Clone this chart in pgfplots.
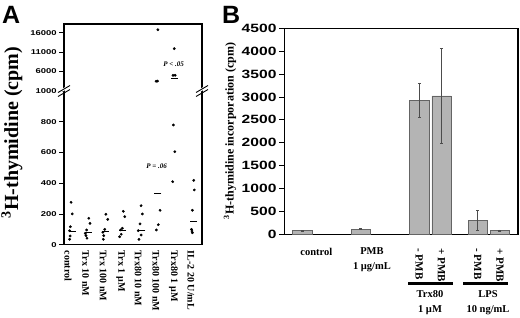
\documentclass[border=0pt]{standalone}
\usepackage{fontspec}
\setmainfont{Liberation Serif}
\setsansfont{Liberation Sans}
\usepackage{pgfplots}
\pgfplotsset{compat=1.18}
\definecolor{barfill}{RGB}{180,180,180}
\definecolor{bardraw}{RGB}{100,100,100}
\begin{document}
\begin{tikzpicture}
\useasboundingbox (0pt,0pt) rectangle (520pt,317pt);
% ---------------- Panel A, lower part (0-1000) ----------------
\begin{axis}[name=lowA, at={(64pt,72.3pt)}, anchor=south west, scale only axis,
  width=138pt, height=153.7pt, xmin=0.6, xmax=8.46, ymin=0, ymax=1000,
  axis line style={draw=none}, clip=false, scaled y ticks=false,
  ytick={0,200,400,600,800,1000}, yticklabels={0,200,400,600,800,1000},
  ytick pos=left, tick align=outside, major tick length=5pt,
  y tick style={line width=0.8pt, black},
  yticklabel style={font=\sffamily\bfseries\fontsize{7}{8}\selectfont, xscale=1.35, inner sep=1.5pt},
  xtick={1,...,8},
  xticklabels={control, Trx 10 nM, Trx 100 nM, Trx 1 µM, Trx80 10 nM, Trx80 100 nM, Trx80 1 µM, IL-2 20 U/mL},
  x tick style={draw=none},
  xticklabel style={rotate=-90, anchor=west, font=\bfseries\fontsize{10}{12}\selectfont, inner sep=1pt, yshift=-3pt}]
\addplot[only marks, mark=*, mark size=1.2pt, black] coordinates {
 (1.00,276) (1.07,200) (0.96,117) (0.92,91) (0.95,57) (0.92,35)
 (2.01,172) (2.08,139) (1.89,96) (1.81,74) (1.85,59) (1.91,42)
 (2.99,198) (3.09,165) (2.92,100) (2.81,81) (2.86,59) (2.84,35)
 (3.98,217) (4.06,182) (3.92,107) (3.83,96) (3.86,68) (3.77,52)
 (4.99,254) (5.06,200) (4.93,135) (4.83,91) (4.99,63) (4.87,35)
 (6.07,224) (5.97,130) (5.86,96)
 (6.79,410) (6.91,605) (6.83,779)
 (7.99,419) (8.02,356) (7.91,224) (7.86,100) (7.89,89) (7.91,78)
};
\addplot[only marks, mark=-, mark size=3.5pt, line width=1.1pt, black] coordinates {
 (1.07,87) (1.97,78) (2.95,83) (3.94,94) (5.04,91) (5.94,332) (7.99,150)
};
\node[font=\bfseries\itshape\fontsize{7}{8}\selectfont] at (axis cs:5.88,512) {P = .06};
\end{axis}
% ---------------- Panel A, upper part (1000-18000) ----------------
\begin{axis}[name=upA, at={(64pt,226pt)}, anchor=south west, scale only axis,
  width=138pt, height=67pt, xmin=0.6, xmax=8.46, ymin=1000, ymax=18224,
  axis line style={draw=none}, clip=false, scaled y ticks=false,
  ytick={6000,11000,16000}, yticklabels={6000,11000,16000},
  ytick pos=left, tick align=outside, major tick length=5pt,
  y tick style={line width=0.8pt, black},
  yticklabel style={font=\sffamily\bfseries\fontsize{7}{8}\selectfont, xscale=1.35, inner sep=1.5pt},
  xtick=\empty]
\addplot[only marks, mark=*, mark size=1.2pt, black] coordinates {
 (5.95,16758) (5.85,3494) (5.93,3550)
 (6.88,11874) (6.81,5036) (6.93,5036)
};
\addplot[only marks, mark=-, mark size=3.5pt, line width=1.1pt, black] coordinates {
 (6.87,4265)
};
\node[font=\bfseries\itshape\fontsize{7}{8}\selectfont] at (axis cs:6.85,7864) {P < .05};
\end{axis}
\draw[line width=1.1pt] (lowA.south west) rectangle (upA.north east);
\foreach \bx in {64pt,202pt}{
  \fill[white] (\bx-4pt,224pt) -- (\bx+4pt,228.5pt) -- (\bx+4pt,231.5pt) -- (\bx-4pt,227pt) -- cycle;
  \draw[line width=0.9pt] (\bx-6pt,220.5pt) -- (\bx+6pt,227.5pt);
  \draw[line width=0.9pt] (\bx-6pt,224.5pt) -- (\bx+6pt,231.5pt);
}
\node[rotate=90, font=\bfseries\fontsize{20}{22}\selectfont] at (12pt,184.5pt) {\textsuperscript{3}H-thymidine (cpm)};
\node[font=\sffamily\bfseries\fontsize{25}{28}\selectfont, anchor=north west, inner sep=0pt] at (2pt,311pt) {A};
% ---------------- Panel B ----------------
\begin{axis}[name=B, at={(284.3pt,82.7pt)}, anchor=south west, scale only axis,
  width=233.7pt, height=206pt, xmin=0, xmax=4, ymin=0, ymax=4500,
  axis line style={line width=1.1pt}, clip=false, scaled y ticks=false,
  ytick={0,500,...,4500}, yticklabels={0,500,1000,1500,2000,2500,3000,3500,4000,4500},
  ytick pos=left, tick align=outside, major tick length=5pt,
  y tick style={line width=0.8pt, black},
  yticklabel style={font=\sffamily\bfseries\fontsize{12}{14}\selectfont, xscale=1.3, inner sep=2pt},
  xtick={0.55,1.5}, xticklabels={control, {PMB\\1 µg/mL}},
  x tick style={draw=none},
  xticklabel style={align=center, font=\bfseries\fontsize{10.5}{15}\selectfont, yshift=-5pt}]
\addplot[ybar, bar width=0.33, bar shift=0pt, fill=barfill, draw=bardraw, line width=0.6pt,
  error bars/.cd, y dir=both, y explicit,
  error bar style={line width=0.5pt, color=black!70},
  error mark options={rotate=90, mark size=1.5pt, line width=0.5pt, color=black!70}]
 coordinates {(0.31,80) +- (0,8) (1.31,115) +- (0,15) (2.31,2930) +- (0,378)
   (2.69,3025) +- (0,1030) (3.31,305) +- (0,225) (3.69,87) +- (0,10)};
\path (axis cs:2.31,0) ++(0pt,-14pt) node[rotate=-90, anchor=west, inner sep=0pt, font=\bfseries\fontsize{11}{12}\selectfont] {- PMB};
\path (axis cs:2.69,0) ++(0pt,-14pt) node[rotate=-90, anchor=west, inner sep=0pt, font=\bfseries\fontsize{11}{12}\selectfont] {+ PMB};
\path (axis cs:3.31,0) ++(0pt,-14pt) node[rotate=-90, anchor=west, inner sep=0pt, font=\bfseries\fontsize{11}{12}\selectfont] {- PMB};
\path (axis cs:3.69,0) ++(0pt,-14pt) node[rotate=-90, anchor=west, inner sep=0pt, font=\bfseries\fontsize{11}{12}\selectfont] {+ PMB};
\end{axis}
\draw[line width=2.7pt] (408.3pt,33.7pt) -- (452.7pt,33.7pt);
\draw[line width=2.7pt] (463.3pt,33.7pt) -- (508.3pt,33.7pt);
\node[align=center, font=\bfseries\fontsize{10.5}{15}\selectfont] at (430pt,14pt) {Trx80\\1 µM};
\node[align=center, font=\bfseries\fontsize{10.5}{15}\selectfont] at (488pt,14pt) {LPS\\10 ng/mL};
\node[rotate=90, font=\bfseries\fontsize{12}{14}\selectfont] at (230pt,186pt) {\textsuperscript{3}H-thymidine incorporation (cpm)};
\node[font=\sffamily\bfseries\fontsize{25}{28}\selectfont, anchor=north west, inner sep=0pt] at (222pt,311pt) {B};
\end{tikzpicture}
\end{document}
